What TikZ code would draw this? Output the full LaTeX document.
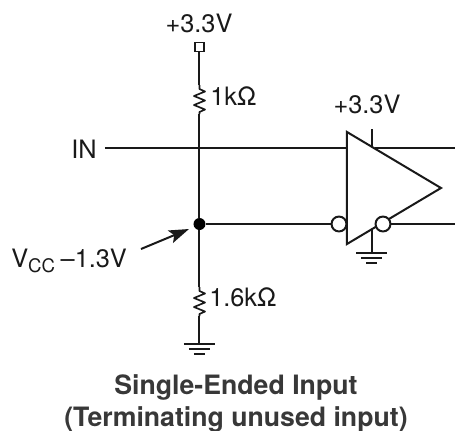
\documentclass[tikz,border=0pt]{standalone}
\usepackage{fontspec}
\setmainfont{TeX Gyre Heros}
\usetikzlibrary{arrows.meta,calc}
\tikzset{
  wire/.style={line width=1.5pt,black!90},
  lab/.style={font=\fontsize{19}{22}\selectfont,text=black!90,inner sep=0pt},
  titlelab/.style={font=\fontsize{20}{24}\bfseries\selectfont,text=black!78,inner sep=0pt,align=center},
  bubble/.style={circle,draw=black!90,line width=1.5pt,fill=white,minimum size=11.2pt,inner sep=0pt},
  dot/.style={circle,fill=black,minimum size=9pt,inner sep=0pt},
  pin/.style={rectangle,draw=black!90,line width=1.2pt,fill=white,minimum size=7pt,inner sep=0pt},
  res/.pic={\draw[wire,line width=1.25pt,line join=round] (0,0) -- (0,4) -- (5.5,6.5) -- (-5.5,11) -- (5.5,15.5) -- (-5.5,20) -- (5.5,24.5) -- (0,27) -- (0,29);},
  gnd/.pic={\draw[wire] (-15.5,0) -- (15.5,0) (-10.5,5) -- (10.5,5) (-5.5,10) -- (5.5,10);}
}
\begin{document}
\begin{tikzpicture}[x=0.75pt,y=-0.75pt]
\useasboundingbox (0,0) rectangle (455,430);
% junctions and free ends
\coordinate (inend) at (105,148);
\coordinate (intop) at (199.5,148);
\coordinate (r1a) at (199.5,85);
\coordinate (r1b) at (199.5,114);
\coordinate (r2a) at (199.5,287);
\coordinate (r2b) at (199.5,316);
\coordinate (g1) at (199.5,344);
\coordinate (tl) at (347,132);
\coordinate (bl) at (347,244);
\coordinate (tip) at (441,188);
\coordinate (intri) at (347,148);
\coordinate (outp) at (375,148);
\coordinate (outpe) at (455,148);
\coordinate (outne) at (455,224);
\coordinate (vt) at (372,129);
\coordinate (vb) at (372,146);
\coordinate (gt) at (372,230);
\coordinate (g2) at (372,253);
\coordinate (arrs) at (141,249);
\coordinate (arre) at (189,229);
% nodes
\node[dot] (j) at (199.5,224) {};
\node[pin] (p) at (199.5,47) {};
\node[lab,anchor=base] (v1) at (199,32) {+3.3V};
\node[lab,anchor=base] (v2) at (367,113) {+3.3V};
\node[lab,anchor=base east] (in) at (97,158) {IN};
\node[lab,anchor=base west] (r1l) at (210,105) {1kΩ};
\node[lab,anchor=base west] (r2l) at (209,306) {1.6kΩ};
\node[lab,anchor=base west] (vcc) at (11,267) {V\raisebox{-0.22em}{\fontsize{14}{14}\selectfont CC}\hspace{0.22em}–1.3V};
\node[titlelab,anchor=base] (title) at (236,426) {Single-Ended Input\\(Terminating unused input)};
% wires
\draw[wire] (p) -- (r1a);
\draw[wire] (r1b) -- (j);
\draw[wire] (j) -- (r2a);
\draw[wire] (r2b) -- (g1);
\pic at (r1a) {res};
\pic at (r2a) {res};
\pic at (g1) {gnd};
\draw[wire] (inend) -- (intop) -- (intri);
\draw[wire] (outp) -- (outpe);
\draw[wire] (vt) -- (vb);
\draw[wire] (gt) -- (g2);
\pic at (g2) {gnd};
\draw[wire] (j) -- (outne);
\draw[wire,fill=white,line join=miter] (tl) -- (tip) -- (bl) -- cycle;
\node[bubble] (b1) at (339,224) {};
\node[bubble] (b2) at (383,224) {};
\draw[wire,-{Stealth[length=15pt,width=10pt,inset=3pt]}] (arrs) -- (arre);
\end{tikzpicture}
\end{document}
